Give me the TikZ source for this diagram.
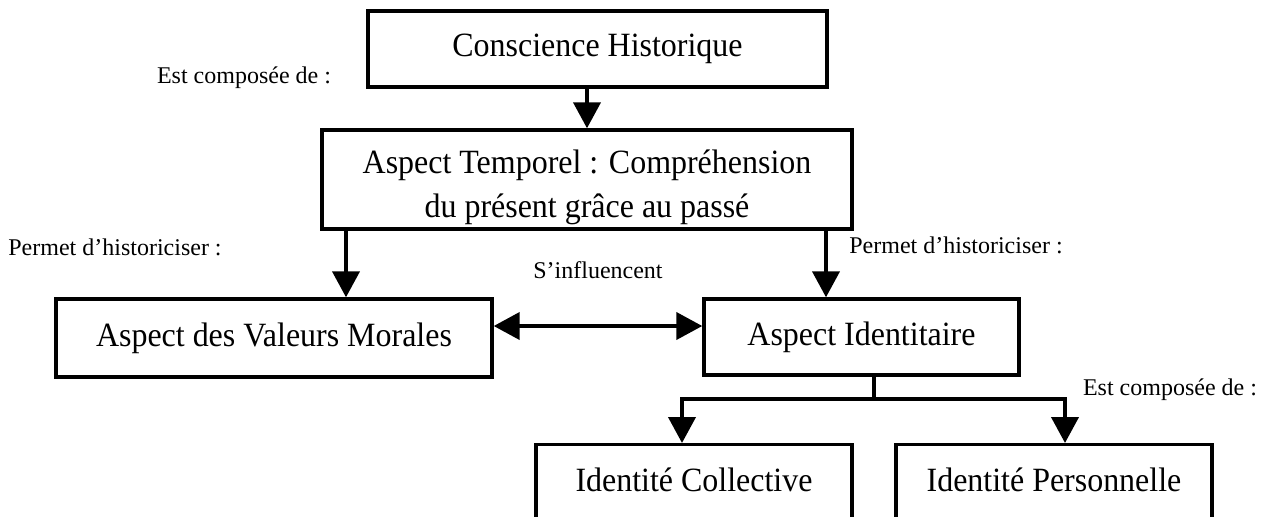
\documentclass[tikz,border=0pt]{standalone}
\usepackage{fontspec}
\setmainfont{Liberation Serif}
\newfontfamily\boxfont[FakeStretch=0.94]{Liberation Serif}
\usepackage{tikz}
\usetikzlibrary{positioning,calc,arrows.meta}

\begin{document}
\begin{tikzpicture}[x=0.5pt, y=-0.5pt,
    box/.style={draw, line width=1.7pt, align=center, font=\boxfont\fontsize{17}{22}\selectfont},
    lbl/.style={font=\fontsize{12}{14}\selectfont},
    arr/.style={line width=2pt, -{Triangle[length=13pt,width=13.5pt]}},
    dbl/.style={line width=2pt, {Triangle[length=13pt,width=13.5pt]}-{Triangle[length=13pt,width=13.5pt]}}]
    \useasboundingbox (0,0) rectangle (1280,516);
    \clip (0,0) rectangle (1280,516);

    \node[box, minimum width=229.5pt, minimum height=38pt] (conscience) at (597.5,49) {Conscience Historique};
    \node[box, minimum width=265pt, minimum height=49.5pt, inner ysep=0pt, text height=40pt, text depth=2pt] (temporel) at (587,179.5) {Aspect Temporel : Compréhension\\du présent grâce au passé};
    \node[box, minimum width=218pt, minimum height=39pt] (valeurs) at (274,338) {Aspect des Valeurs Morales};
    \node[box, minimum width=157.5pt, minimum height=38pt] (identitaire) at (861.5,337) {Aspect Identitaire};
    % boites du bas, coupees par le bord
    \node[box, anchor=north, minimum width=158pt, text height=11.5pt, text depth=40pt, inner ysep=12pt] (collective) at (694,443) {Identité Collective};
    \node[box, anchor=north, minimum width=158pt, text height=11.5pt, text depth=40pt, inner ysep=12pt] (personnelle) at (1054,443) {Identité Personnelle};

    \node[lbl] (compose1) at (244,78) {Est composée de :};
    \node[lbl] (permet1) at (115,247) {Permet d’historiciser :};
    \node[lbl] (permet2) at (956,245) {Permet d’historiciser :};
    \node[lbl] (compose2) at (1170,390) {Est composée de :};

    \draw[arr] (conscience.south -| temporel.north) -- (temporel.north);
    \coordinate (a1) at ($(valeurs.north)+(72,0)$);
    \coordinate (a2) at ($(identitaire.north)+(-35.5,0)$);
    \draw[arr] (temporel.south -| a1) -- (a1);
    \draw[arr] (temporel.south -| a2) -- (a2);

    \coordinate (m1) at ($(valeurs.east)+(0,-12)$);
    \draw[dbl] (m1) -- (identitaire.west |- m1) node[lbl, midway, yshift=28pt] (influence) {S’influencent};

    \coordinate (j) at ($(identitaire.south)+(12.5,22)$);
    \coordinate (c1) at ($(collective.north)+(-12,0)$);
    \coordinate (c2) at ($(personnelle.north)+(11,0)$);
    \draw[line width=2pt] (identitaire.south -| j) -- (j);
    \draw[arr] (j) -| (c1);
    \draw[arr] (j) -| (c2);
\end{tikzpicture}
\end{document}
